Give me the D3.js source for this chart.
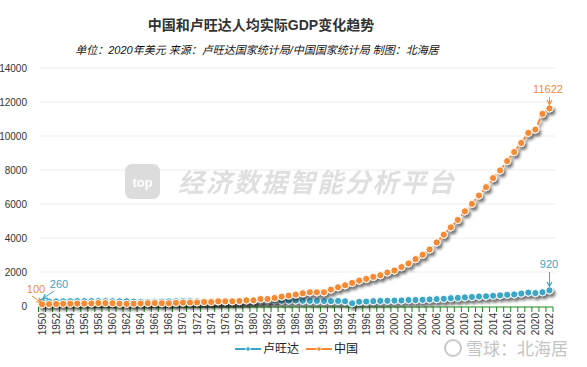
<!DOCTYPE html>
<html><head><meta charset="utf-8">
<script src="https://cdn.jsdelivr.net/npm/d3@7"></script>
<style>
html,body{margin:0;padding:0;background:#fff;}
svg{display:block;font-family:"Liberation Sans",Arial,"Noto Sans CJK SC",sans-serif;}
</style></head><body>
<svg id="c" width="587" height="367"></svg>
<script>
const title = "中国和卢旺达人均实际GDP变化趋势";
const subtitle = "单位：2020年美元 来源：卢旺达国家统计局/中国国家统计局  制图：北海居";
const years = d3.range(1950, 2023);
const yTicks = [0, 2000, 4000, 6000, 8000, 10000, 12000, 14000];
const seriesNames = ["卢旺达", "中国"];
const rwanda = [260,265,270,275,280,285,285,290,290,285,285,275,280,260,250,245,255,265,270,280,
  290,285,280,275,270,270,280,285,295,310,320,330,330,335,315,320,325,310,305,300,
  295,290,300,280,160,250,265,285,300,305,315,325,350,350,365,385,405,425,460,475,
  505,530,560,575,600,630,660,680,730,790,760,810,920];
const china = [100,110,120,130,135,140,145,150,175,170,165,135,125,135,150,165,175,165,160,185,
  200,205,210,236,236,276,276,276,295,335,335,413,413,472,551,610,670,748,807,807,
  807,965,1102,1220,1358,1496,1594,1713,1811,1968,2087,2290,2500,2758,3012,3325,3739,4194,4625,5062,
  5570,6007,6500,6990,7520,7975,8525,9055,9590,10180,10378,11300,11622];
const colors = {"卢旺达":"#3ba6c6", "中国":"#f58a34"};

const svg = d3.select("#c");
const defs = svg.append("defs");
const f = defs.append("filter").attr("id","sh").attr("x","-10%").attr("y","-10%").attr("width","130%").attr("height","140%");
f.append("feDropShadow").attr("dx",2).attr("dy",3).attr("stdDeviation",1.6).attr("flood-color","#000").attr("flood-opacity",0.55);

const x = d3.scaleBand().domain(years).range([38.5, 553]);
const xc = d => x(d) + x.bandwidth()/2;
const y = d3.scaleLinear().domain([0, 14000]).range([306, 68]);

// title
svg.append("text").attr("x", 261).attr("y", 30).attr("text-anchor","middle")
  .attr("font-size", 14).attr("font-weight","bold").attr("fill","#333").text(title);
svg.append("text").attr("x", 257).attr("y", 54).attr("text-anchor","middle")
  .attr("font-size", 11).attr("font-style","italic").attr("fill","#111").text(subtitle);

// grid
svg.append("g").selectAll("line").data(yTicks.slice(1)).join("line")
  .attr("x1", 40).attr("x2", 555).attr("y1", d=>y(d)).attr("y2", d=>y(d))
  .attr("stroke","#ececec").attr("stroke-width",1);

// y labels
svg.append("g").selectAll("text").data(yTicks).join("text")
  .attr("x", 27).attr("y", d=>y(d)+4).attr("text-anchor","end")
  .attr("font-size", 10).attr("fill","#333").text(d=>d);

// watermark
const wm = svg.append("g").attr("opacity",0.9);
wm.append("rect").attr("x",125).attr("y",164).attr("width",35).attr("height",35).attr("rx",7).attr("fill","#d9d9d9");
wm.append("text").attr("x",142.5).attr("y",187).attr("text-anchor","middle").attr("font-size",13).attr("font-weight","bold").attr("fill","#fff").text("top");
wm.append("text").attr("x",178).attr("y",192).attr("font-size",26).attr("font-weight","bold").attr("font-style","italic")
  .attr("fill","#dcdcdc").attr("textLength",276).text("经济数据智能分析平台");

// x axis
const xa = svg.append("g");
xa.append("line").attr("x1",38.5).attr("x2",553).attr("y1",307).attr("y2",307).attr("stroke","#1a8a1a").attr("stroke-width",1.2);
const bounds = years.map(d=>x(d)).concat([x(2022)+x.bandwidth()]);
xa.selectAll("line.t").data(bounds).join("line").attr("class","t")
  .attr("x1",d=>d).attr("x2",d=>d).attr("y1",307).attr("y2",312).attr("stroke","#1a8a1a").attr("stroke-width",1);
xa.selectAll("text").data(years.filter(d=>d%2===0)).join("text")
  .attr("transform", d=>`translate(${xc(d)+3.5},313) rotate(-90)`)
  .attr("text-anchor","end").attr("font-size",10).attr("fill","#333").text(d=>d);

// series
const data = [{name:"卢旺达", vals:rwanda},{name:"中国", vals:china}];
const line = d3.line().x((d,i)=>xc(years[i])).y(d=>y(d));
data.forEach(s=>{
  const g = svg.append("g").attr("filter","url(#sh)");
  g.append("path").attr("d", line(s.vals)).attr("fill","none").attr("stroke",colors[s.name])
    .attr("stroke-width",2).attr("stroke-dasharray","6,2,2,2");
  g.selectAll("circle").data(s.vals).join("circle")
    .attr("cx",(d,i)=>xc(years[i])).attr("cy",d=>y(d)).attr("r",3.6)
    .attr("fill",colors[s.name]).attr("stroke","#fff").attr("stroke-width",1);
});

// annotations
function annot(px, py, tx, ty, label, col, lx, ly){
  svg.append("line").attr("x1",lx).attr("y1",ly).attr("x2",px).attr("y2",py).attr("stroke",col).attr("stroke-width",1);
  const a = Math.atan2(py-ly, px-lx);
  const h = 5;
  svg.append("path").attr("d", `M${px-h*Math.cos(a-0.5)},${py-h*Math.sin(a-0.5)} L${px},${py} L${px-h*Math.cos(a+0.5)},${py-h*Math.sin(a+0.5)}`)
    .attr("fill","none").attr("stroke",col).attr("stroke-width",1.2);
  svg.append("text").attr("x",tx).attr("y",ty).attr("text-anchor","middle").attr("font-size",11).attr("fill",col).text(label);
}
const n = years.length-1;
annot(xc(1950)-1, y(china[0])-2, 36, 293, china[0], colors["中国"], 32, 296);
annot(xc(1950)+1, y(rwanda[0])-3, 59, 288, rwanda[0], colors["卢旺达"], 54, 291);
annot(xc(2022), y(china[n])-4, 548, 93, china[n], colors["中国"], xc(2022), 97);
annot(xc(2022), y(rwanda[n])-4, 549, 268, rwanda[n], colors["卢旺达"], xc(2022), 272);

// legend
const lg = svg.append("g");
[["卢旺达",235,263],["中国",306,334]].forEach(([nm,lx,tx])=>{
  lg.append("line").attr("x1",lx).attr("x2",lx+26).attr("y1",349).attr("y2",349).attr("stroke",colors[nm]).attr("stroke-width",2);
  lg.append("circle").attr("cx",lx+13).attr("cy",349).attr("r",2.2).attr("fill",colors[nm]).attr("stroke","#fff").attr("stroke-width",0.8);
  lg.append("text").attr("x",tx).attr("y",353).attr("font-size",12).attr("fill","#222").text(nm);
});

// bottom watermark
const bw = svg.append("g");
bw.append("circle").attr("cx",453).attr("cy",348).attr("r",8).attr("fill","none").attr("stroke","#c8c8c8").attr("stroke-width",2);
bw.append("text").attr("x",466).attr("y",355).attr("font-size",17).attr("fill","#c4c4c4").text("雪球：北海居");
</script>
</body></html>
